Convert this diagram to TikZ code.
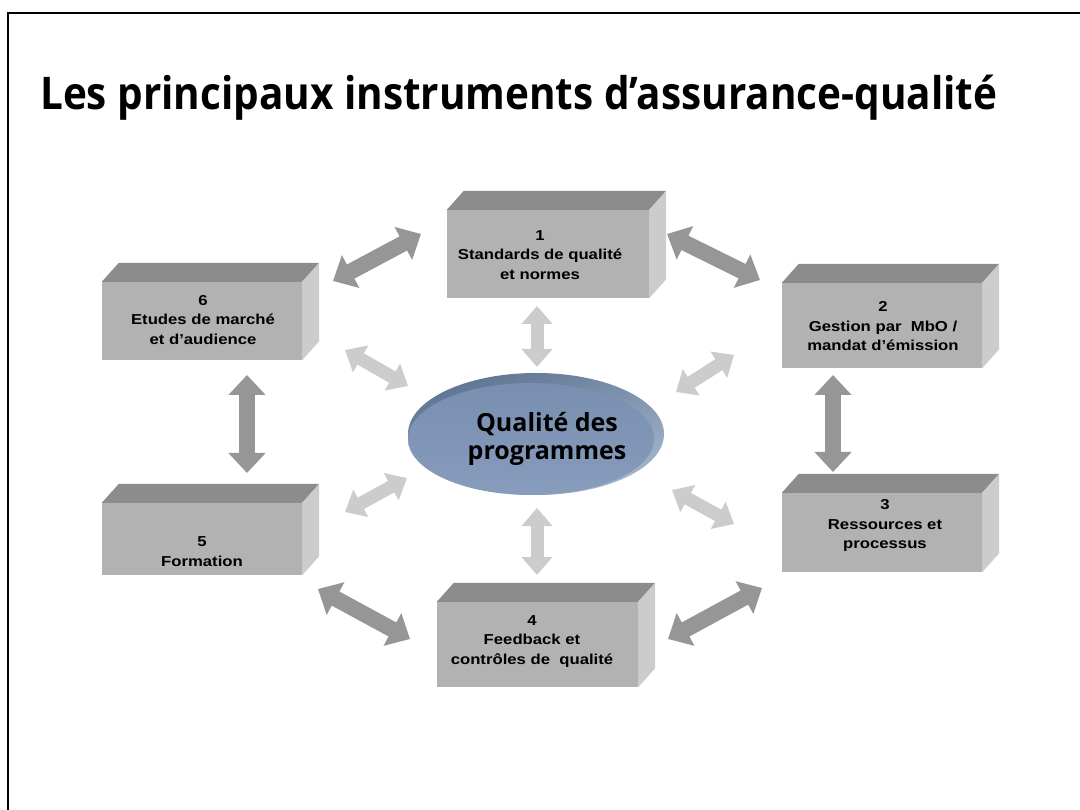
\documentclass[tikz,border=0pt]{standalone}
\usepackage{graphicx}
\usepackage{fontspec}
\setmainfont{Liberation Sans}
\newfontfamily\titlefont{Open Sans}
\newfontfamily\boxfont{Liberation Sans}[FakeStretch=1.16]
\usetikzlibrary{arrows.meta,shapes.geometric}
\definecolor{frontgray}{RGB}{178,178,178}
\definecolor{topgray}{RGB}{140,140,140}
\definecolor{sidegray}{RGB}{204,204,204}
\definecolor{darkarr}{RGB}{150,150,150}
\definecolor{lightarr}{RGB}{204,204,204}
\definecolor{rimtop}{RGB}{95,116,146}
\definecolor{rimbot}{RGB}{165,182,205}
\definecolor{disktop}{RGB}{120,143,176}
\definecolor{diskbot}{RGB}{136,156,188}
\newcommand\qbox[5]{%
  \node[frontface, minimum width=#4pt, minimum height=#5pt] (#1) at (#2,#3) {};
  \fill[topgray] (#1.north west) -- ++(17,-19) -- ([shift={(17,-19)}]#1.north east) -- (#1.north east) -- cycle;
  \fill[sidegray] (#1.north east) -- ++(17,-19) -- ([shift={(17,-19)}]#1.south east) -- (#1.south east) -- cycle;
}
\begin{document}
\begin{tikzpicture}[x=1pt,y=-1pt,
  frontface/.style={rectangle, fill=frontgray, inner sep=0pt},
  boxtext/.style={font=\boxfont\bfseries\fontsize{14.4}{19.5}\selectfont, align=center, inner sep=0pt, text=black},
  darkarrow/.style={draw=darkarr, line width=16pt, {Triangle[width=36pt,length=20pt]}-{Triangle[width=36pt,length=20pt]}},
  lightarrow/.style={draw=lightarr, line width=13pt, {Triangle[width=30pt,length=18pt]}-{Triangle[width=30pt,length=18pt]}}
]
\useasboundingbox (0,0) rectangle (1080,810);
\fill[white] (0,0) rectangle (1080,810);
\draw[line width=2.6pt] (8,812) -- (8,13) -- (1082,13);

\node[anchor=base west, inner sep=0pt] (title) at (40,110) {\resizebox{957pt}{\height}{\titlefont\bfseries\fontsize{45}{50}\selectfont Les principaux instruments d’assurance-qualité}};

% boxes
\qbox{b1}{548}{254}{202}{88}
\qbox{b2}{882}{325.5}{200}{85}
\qbox{b3}{882}{532.5}{200}{79}
\qbox{b4}{537.5}{644.5}{201}{85}
\qbox{b5}{202}{539}{200}{72}
\qbox{b6}{202}{321}{200}{78}

\node[boxtext] (t1) at (540,255) {1\\Standards de qualité\\et normes};
\node[boxtext] (t2) at (883,326.5) {2\\Gestion par~~MbO /\\mandat d’émission};
\node[boxtext] (t3) at (885,525.5) {3\\Ressources et\\processus};
\node[boxtext] (t4) at (532,641.5) {4\\Feedback et\\contrôles de~~qualité};
\node[boxtext] (t5) at (202,551.5) {5\\Formation};
\node[boxtext] (t6) at (203,320) {6\\Etudes de marché\\et d’audience};

% central disk
\shade[top color=rimtop, bottom color=rimbot, shading angle=20] (536,434) ellipse [x radius=128, y radius=61];
\shade[top color=disktop, bottom color=diskbot] (531,439) ellipse [x radius=123, y radius=56];
\node[font=\titlefont\bfseries\fontsize{25}{28}\selectfont, align=center, inner sep=0pt] (q) at (547,439) {Qualité des\\programmes};

% arrow end points
\coordinate (d61a) at (333,281); \coordinate (d61b) at (421,234);
\coordinate (d12a) at (667,234); \coordinate (d12b) at (760,280);
\coordinate (d23a) at (833,375); \coordinate (d23b) at (833,472);
\coordinate (d65a) at (247,375); \coordinate (d65b) at (247,473);
\coordinate (d54a) at (318,589); \coordinate (d54b) at (410,639);
\coordinate (d43a) at (668,639); \coordinate (d43b) at (762,588);
\coordinate (c1a) at (537,306); \coordinate (c1b) at (537,367);
\coordinate (c4a) at (537,508); \coordinate (c4b) at (537,575);
\coordinate (c6a) at (345,350); \coordinate (c6b) at (408,386);
\coordinate (c5a) at (345,512); \coordinate (c5b) at (407,478);
\coordinate (c2a) at (676,392); \coordinate (c2b) at (734,355);
\coordinate (c3a) at (672,490); \coordinate (c3b) at (734,524);

\draw[darkarrow] (d61a) -- (d61b);
\draw[darkarrow] (d12a) -- (d12b);
\draw[darkarrow] (d23a) -- (d23b);
\draw[darkarrow] (d65a) -- (d65b);
\draw[darkarrow] (d54a) -- (d54b);
\draw[darkarrow] (d43a) -- (d43b);
\draw[lightarrow] (c1a) -- (c1b);
\draw[lightarrow] (c4a) -- (c4b);
\draw[lightarrow] (c6a) -- (c6b);
\draw[lightarrow] (c5a) -- (c5b);
\draw[lightarrow] (c2a) -- (c2b);
\draw[lightarrow] (c3a) -- (c3b);
\end{tikzpicture}
\end{document}
